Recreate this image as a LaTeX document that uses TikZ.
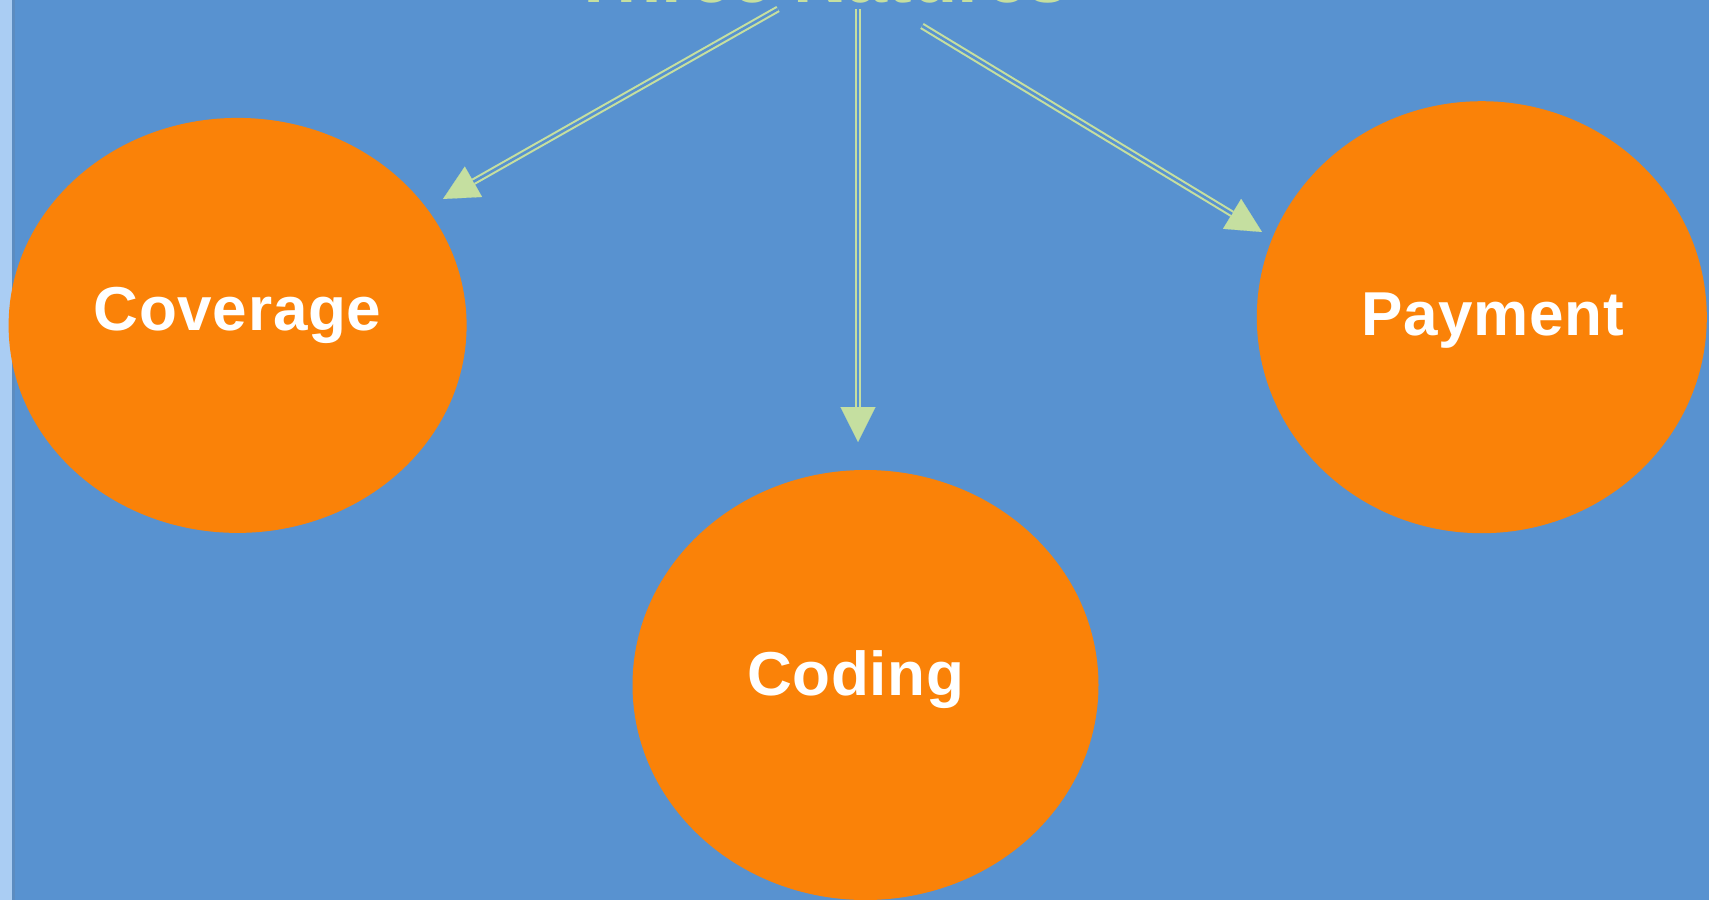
\documentclass[tikz,border=0pt]{standalone}
\usepackage{fontspec}
\setmainfont{Liberation Sans}
\newfontfamily\lblfont[LetterSpace=1.2]{Liberation Sans}
\usetikzlibrary{shapes.geometric,arrows.meta}
\definecolor{bgblue}{RGB}{88,146,208}
\definecolor{stripblue}{RGB}{170,205,243}
\definecolor{edgeblue}{RGB}{92,140,192}
\definecolor{nodeorange}{RGB}{250,130,8}
\definecolor{arrowgreen}{RGB}{197,223,160}
\begin{document}
\begin{tikzpicture}[x=1pt,y=-1pt,
  blob/.style={ellipse, fill=nodeorange, draw=none, inner sep=0pt},
  lbl/.style={text=white, font=\lblfont\fontsize{62}{74}\selectfont\bfseries, inner sep=0pt, anchor=base},
  ttl/.style={text=arrowgreen, font=\fontsize{74}{88}\selectfont\bfseries, inner sep=0pt, anchor=base},
  head/.style={draw=arrowgreen, line width=0.1pt, -{Triangle[length=35pt,width=35pt,fill=arrowgreen]}},
  shaft/.style={draw=arrowgreen, double=bgblue, line width=2.1pt, double distance=2.6pt, shorten >=35pt}]
\useasboundingbox (0,0) rectangle (1709,900);
\clip (0,0) rectangle (1709,900);
\fill[bgblue] (0,0) rectangle (1709,900);
\fill[stripblue] (0,0) rectangle (12,900);
\fill[edgeblue] (12,0) rectangle (14.5,900);
% title (mostly above the visible area)
\node[ttl] (title) at (820,2) {Three Natures};
% ellipses
\node[blob, minimum width=458pt, minimum height=415pt] (coverage) at (237.6,325.4) {};
\node[blob, minimum width=466pt, minimum height=430pt] (coding) at (865.5,685) {};
\node[blob, minimum width=450pt, minimum height=432pt] (payment) at (1481.8,317.2) {};
\node[lbl] (covlbl) at (237.6,330) {Coverage};
\node[lbl] (codlbl) at (855.6,695.4) {Coding};
\node[lbl] (paylbl) at (1492.7,335.7) {Payment};
% connector ends
\coordinate (s1) at (778,9);
\coordinate (s2) at (858,9);
\coordinate (s3) at (922,26);
\coordinate (t1) at (443,199);
\coordinate (t2) at (858,442);
\coordinate (t3) at (1262,232);
\draw[head] (s1) -- (t1);
\draw[shaft] (s1) -- (t1);
\draw[head] (s2) -- (t2);
\draw[shaft] (s2) -- (t2);
\draw[head] (s3) -- (t3);
\draw[shaft] (s3) -- (t3);
\end{tikzpicture}
\end{document}
